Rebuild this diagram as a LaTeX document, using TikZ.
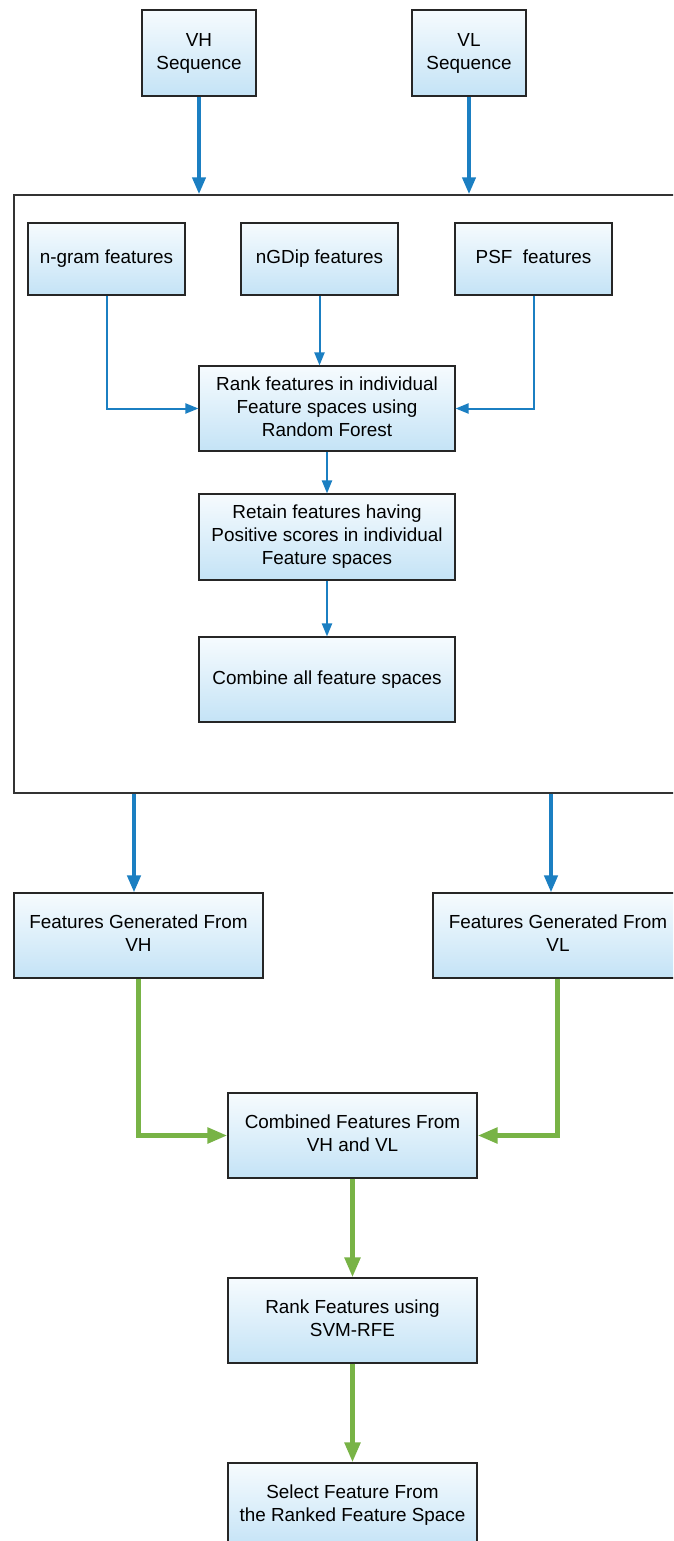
\documentclass[tikz,border=0pt]{standalone}
\usepackage{fontspec}
\setmainfont{Liberation Sans}
\usetikzlibrary{arrows.meta,calc}
\definecolor{arrblue}{HTML}{1B7FC2}
\definecolor{arrgreen}{HTML}{78B346}
\definecolor{boxtop}{HTML}{F6FBFE}
\definecolor{boxbot}{HTML}{C4E3F6}
\tikzset{
  box/.style={draw=black!85, line width=1.1pt, top color=boxtop, bottom color=boxbot,
    align=center, inner sep=0pt, font=\fontsize{18.9}{23}\selectfont,
    execute at end node=\vphantom{g}},
  bluethick/.style={draw=arrblue, line width=4pt, -{Triangle[length=17pt,width=13pt]}},
  bluethin/.style={draw=arrblue, line width=2pt, -{Triangle[length=13pt,width=10pt]}},
  greenthick/.style={draw=arrgreen, line width=5pt, -{Triangle[length=20pt,width=15pt]}},
}
\begin{document}
\begin{tikzpicture}[x=1pt,y=-1pt]
\clip (0,0) rectangle (673,1541);
\fill[white] (0,0) rectangle (673,1541);
% top inputs
\node[box, minimum width=114, minimum height=86] (vh) at (199,53) {VH\\Sequence};
\node[box, minimum width=114, minimum height=86] (vl) at (469,53) {VL\\Sequence};
% frame
\node[draw=black!80, line width=1.4pt, minimum width=686, minimum height=598, inner sep=0pt] (frame) at (357,494) {};
% feature boxes
\node[box, minimum width=157, minimum height=72] (ngram) at (106.5,259) {n-gram features};
\node[box, minimum width=157, minimum height=72] (ngdip) at (319.5,259) {nGDip features};
\node[box, minimum width=157, minimum height=72] (psf) at (533.5,259) {PSF\ \ features};
\node[box, minimum width=256, minimum height=85] (rank) at (327,408.5) {Rank features in individual\\Feature spaces using\\Random Forest};
\node[box, minimum width=256, minimum height=86] (retain) at (327,537) {Retain features having\\Positive scores in individual\\Feature spaces};
\node[box, minimum width=256, minimum height=85] (comball) at (327,679.5) {Combine all feature spaces};
% generated
\node[box, minimum width=249, minimum height=85] (fvh) at (138.5,935.5) {Features Generated From\\VH};
\node[box, minimum width=250, minimum height=85] (fvl) at (558,935.5) {Features Generated From\\VL};
% bottom chain
\node[box, minimum width=249, minimum height=85] (comb) at (352.5,1135.5) {Combined Features From\\VH and VL};
\node[box, minimum width=249, minimum height=85] (svm) at (352.5,1320.5) {Rank Features using\\SVM-RFE};
\node[box, minimum width=249, minimum height=85] (sel) at (352.5,1505.5) {Select Feature From\\the Ranked Feature Space};
% arrows
\draw[bluethick] (vh.south) -- (vh.south |- frame.north);
\draw[bluethick] (vl.south) -- (vl.south |- frame.north);
\draw[bluethin] (ngram.south) |- (rank.west);
\draw[bluethin] (ngdip.south) -- (ngdip.south |- rank.north);
\draw[bluethin] (psf.south) |- (rank.east);
\draw[bluethin] (rank.south) -- (retain.north);
\draw[bluethin] (retain.south) -- (comball.north);
\draw[bluethick] ([xshift=-4.5pt]fvh.north |- frame.south) -- ([xshift=-4.5pt]fvh.north);
\draw[bluethick] ([xshift=-7pt]fvl.north |- frame.south) -- ([xshift=-7pt]fvl.north);
\draw[greenthick] (fvh.south) |- (comb.west);
\draw[greenthick] ([xshift=-1pt]fvl.south) |- (comb.east);
\draw[greenthick] (comb.south) -- (svm.north);
\draw[greenthick] (svm.south) -- (sel.north);
\end{tikzpicture}
\end{document}
